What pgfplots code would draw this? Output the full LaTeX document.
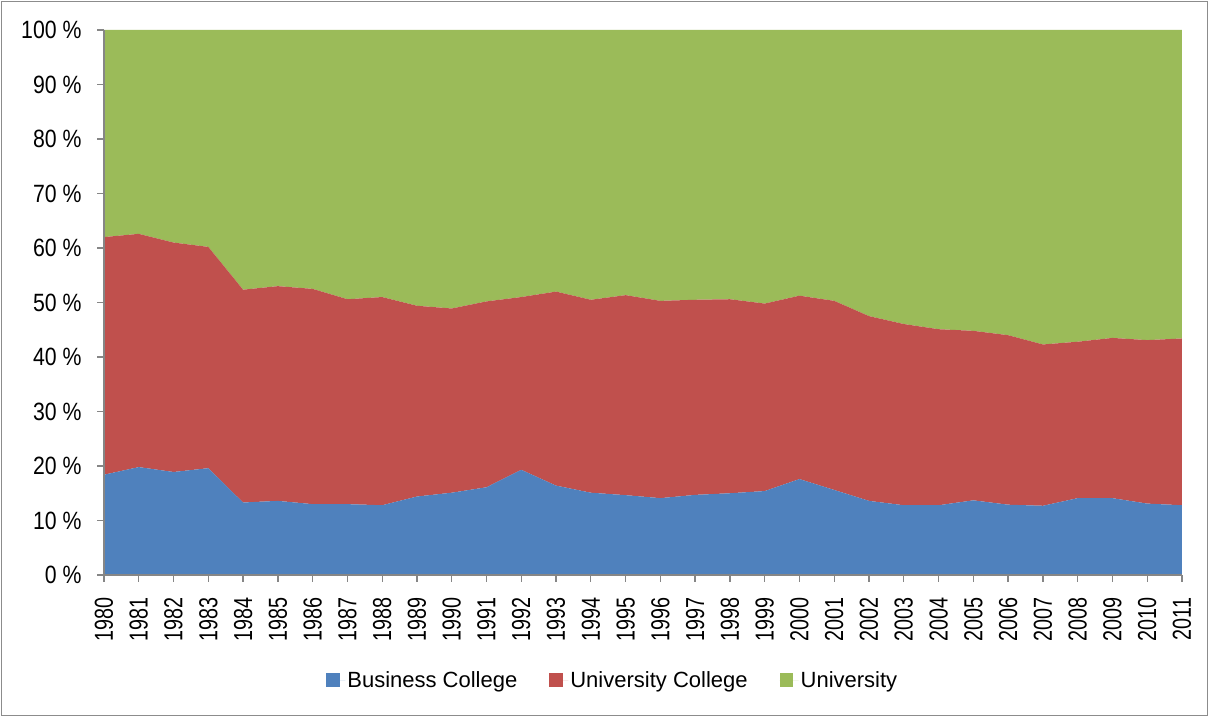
\documentclass[border=0pt]{standalone}
\usepackage{fontspec}
\setmainfont{Liberation Sans}
\newfontfamily\ytfont[FakeStretch=0.85]{Liberation Sans}
\newfontfamily\xtfont[FakeStretch=0.76]{Liberation Sans}
\usepackage{pgfplots}
\usepackage{pgfplotstable}
\pgfplotsset{compat=1.18}
\definecolor{cB}{HTML}{4F81BD}
\definecolor{cR}{HTML}{C0504D}
\definecolor{cG}{HTML}{9BBB59}
\definecolor{axgray}{HTML}{868686}
\definecolor{framegray}{HTML}{8C8C8C}
\pgfplotstableread{
year bc uc u
1980 18.4 43.6 38.0
1981 19.8 42.8 37.4
1982 18.9 42.1 39.0
1983 19.6 40.6 39.8
1984 13.3 39.05 47.65
1985 13.6 39.4 47.0
1986 13.0 39.5 47.5
1987 13.0 37.6 49.4
1988 12.8 38.2 49.0
1989 14.4 35.0 50.6
1990 15.1 33.8 51.1
1991 16.1 34.1 49.8
1992 19.3 31.7 49.0
1993 16.4 35.6 48.0
1994 15.1 35.4 49.5
1995 14.65 36.7 48.65
1996 14.1 36.2 49.7
1997 14.7 35.8 49.5
1998 15.0 35.6 49.4
1999 15.4 34.4 50.2
2000 17.6 33.65 48.75
2001 15.6 34.7 49.7
2002 13.6 33.9 52.5
2003 12.8 33.25 53.95
2004 12.8 32.3 54.9
2005 13.7 31.1 55.2
2006 12.9 31.1 56.0
2007 12.7 29.6 57.7
2008 14.1 28.7 57.2
2009 14.1 29.4 56.5
2010 13.1 30.0 56.9
2011 12.8 30.6 56.6
}\data
\begin{document}
\begin{tikzpicture}[x=1pt,y=1pt]
\useasboundingbox (-104,-142) rectangle (1106,575);
\draw[framegray, line width=1.3pt] (-102.5,-140.5) rectangle (1103.5,573.5);
\begin{axis}[
  at={(0,0)}, anchor=south west,
  scale only axis, width=1078pt, height=545pt,
  xmin=1980, xmax=2011, ymin=0, ymax=100,
  stack plots=y, area style,
  axis on top=true,
  axis x line*=bottom, axis y line*=left,
  axis line style={draw=axgray, line width=1.6pt, -},
  tick style={draw=axgray, line width=1.3pt},
  tick align=outside, major tick length=7pt,
  xtick={1980,1981,...,2011},
  ytick={0,10,...,100},
  yticklabels={0 \%,10 \%,20 \%,30 \%,40 \%,50 \%,60 \%,70 \%,80 \%,90 \%,100 \%},
  /pgf/number format/assume math mode=true,
  /pgf/number format/1000 sep={},
  y tick label style={font=\ytfont\fontsize{25}{30}\selectfont},
  yticklabel shift=12pt,
  x tick label style={font=\xtfont\fontsize{26}{30}\selectfont, rotate=90, anchor=east},
  xticklabel shift=12pt,
  legend style={at={(0.472,-0.193)}, anchor=center, draw=none,
    font=\fontsize{22}{26}\selectfont,
    /tikz/every even column/.append style={column sep=30pt}},
  legend columns=3,
  legend cell align=left,
  legend image code/.code={\path (0pt,0pt) -- (19pt,0pt);\fill[#1] (0pt,-7pt) rectangle (13.5pt,7pt);},
]
\addplot[fill=cB, draw=none] table[x=year,y=bc]{\data} \closedcycle;
\addplot[fill=cR, draw=none] table[x=year,y=uc]{\data} \closedcycle;
\addplot[fill=cG, draw=none] table[x=year,y=u]{\data} \closedcycle;
\legend{Business College, University College, University}
\end{axis}
\end{tikzpicture}
\end{document}
